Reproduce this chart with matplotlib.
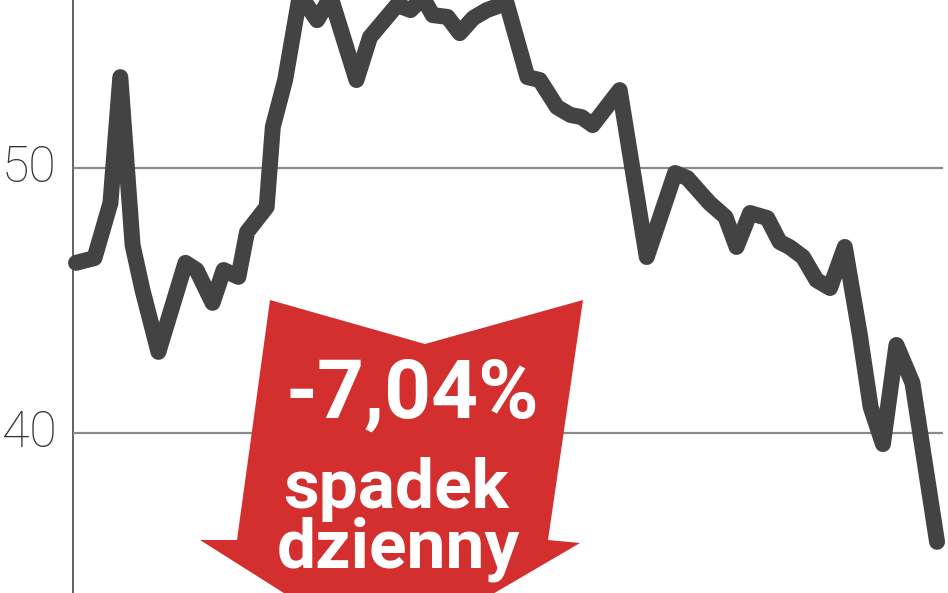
import matplotlib
matplotlib.use("Agg")
import matplotlib.pyplot as plt
from matplotlib.patches import Polygon

# sesje (numer dnia) i kurs zamkniecia
days = [0, 1.5, 2.8, 3.6, 4.6, 5.4, 6.7, 8.9, 9.8, 11.1, 12.0, 13.2, 13.9,
        15.5, 16.0, 17.0, 18.2, 19.6, 20.7, 22.8, 23.9, 26.1, 27.2, 28.2,
        29.0, 30.2, 31.2, 32.3, 33.4, 35.0, 36.7, 37.7, 39.1, 40.2, 41.1,
        42.0, 44.2, 46.4, 48.7, 49.7, 51.5, 52.8, 53.7, 54.8, 56.2, 57.2,
        58.0, 59.1, 60.2, 61.3, 62.5, 63.7, 64.6, 65.6, 66.7, 68.0, 70.0]
prices = [46.42, 46.60, 48.68, 53.43, 47.09, 45.40, 43.06, 46.42, 46.15,
          44.91, 46.15, 45.89, 47.58, 48.53, 51.55, 53.32, 56.53, 55.58,
          56.45, 53.32, 54.94, 56.15, 55.96, 56.42, 55.77, 55.70, 55.09,
          55.66, 55.96, 56.23, 53.43, 53.32, 52.30, 52.00, 51.92, 51.62,
          52.94, 46.64, 49.81, 49.62, 48.68, 48.15, 47.02, 48.30, 48.11,
          47.21, 47.02, 46.64, 45.77, 45.47, 47.02, 43.77, 40.98, 39.58,
          43.32, 41.89, 35.89]
grid_levels = [40, 50]
tick_labels = ["40", "50"]

fig = plt.figure(figsize=(9.48, 5.93), dpi=100)
ax = fig.add_axes([0, 0, 1, 1])
ax.set_xlim(-6.18, 70.89)
ax.set_ylim(33.96, 56.34)
ax.axis("off")

# os pionowa i linie siatki
ax.axvline(-0.25, color="#555555", lw=1.3, zorder=1)
ax.hlines(grid_levels, -0.25, 70.5, color="#8a8a8a", lw=1.6, zorder=1)
for lvl, lab in zip(grid_levels, tick_labels):
    ax.text(-1.6, lvl, lab, ha="right", va="center", fontsize=36,
            family="Roboto", fontweight="light", color="#333333")

ax.plot(days, prices, color="#434343", lw=11.5, solid_joinstyle="round",
        solid_capstyle="round", zorder=3)

# czerwona strzalka (wspolrzedne w pikselach obrazka)
W, H = 948, 593
arrow_px = [(270, 300), (425, 344), (583, 300), (548, 540), (580, 543),
            (385, 657), (200, 540), (237, 540)]
arrow = Polygon([(x / W, 1 - y / H) for x, y in arrow_px], closed=True,
                transform=ax.transAxes, facecolor="#d22f2e", edgecolor="none",
                zorder=4, clip_on=False)
ax.add_patch(arrow)

font = ["Roboto", "DejaVu Sans"]
ax.text(412 / W, 1 - 418 / H, "-7,04%", transform=ax.transAxes, ha="center",
        va="baseline", fontsize=59, fontweight="bold", color="white",
        family=font, zorder=5)
ax.text(396 / W, 1 - 508 / H, "spadek", transform=ax.transAxes, ha="center",
        va="baseline", fontsize=50, fontweight="bold", color="white",
        family=font, zorder=5)
ax.text(398 / W, 1 - 567 / H, "dzienny", transform=ax.transAxes, ha="center",
        va="baseline", fontsize=50, fontweight="bold", color="white",
        family=font, zorder=5)

fig.savefig("out.png", dpi=100)
